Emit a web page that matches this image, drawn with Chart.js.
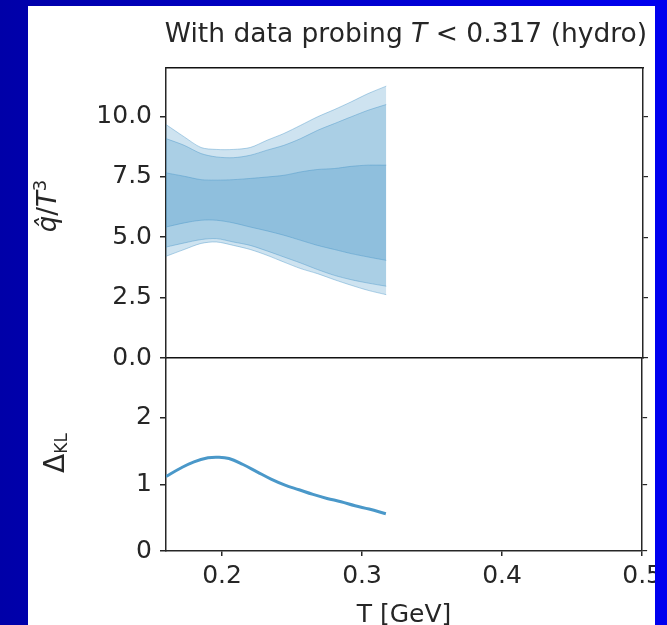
<!DOCTYPE html>
<html><head><meta charset="utf-8">
<script src="https://cdn.jsdelivr.net/npm/chart.js@4.4.1/dist/chart.umd.min.js"></script>
<style>
html,body{margin:0;width:667px;height:625px;overflow:hidden;background:linear-gradient(90deg,#0000a8,#0000f0);}
#sheet{position:absolute;left:28px;top:6px;width:627px;height:619px;background:#fff;overflow:hidden;}
#sheet canvas{position:absolute;left:-28px;top:-6px;}
</style></head><body>
<div id="sheet"><canvas id="qhat" width="667" height="625"></canvas><canvas id="dkl" width="667" height="625"></canvas></div>
<script>
// ----- values -----
const tQ    = [0.160, 0.173, 0.185, 0.196, 0.208, 0.220, 0.232, 0.244, 0.256, 0.268, 0.280, 0.292, 0.304, 0.317];
const hiOut = [9.66, 9.15, 8.71, 8.63, 8.63, 8.71, 9.01, 9.29, 9.63, 9.98, 10.28, 10.60, 10.94, 11.25];
const hiMid = [9.08, 8.80, 8.46, 8.32, 8.29, 8.39, 8.60, 8.80, 9.08, 9.42, 9.70, 9.98, 10.25, 10.49];
const hiIn  = [7.66, 7.52, 7.38, 7.36, 7.38, 7.43, 7.49, 7.56, 7.70, 7.80, 7.84, 7.93, 7.98, 7.98];
const loIn  = [5.42, 5.59, 5.70, 5.70, 5.59, 5.42, 5.26, 5.08, 4.87, 4.66, 4.49, 4.32, 4.18, 4.04];
const loMid = [4.59, 4.76, 4.90, 4.94, 4.80, 4.66, 4.43, 4.18, 3.93, 3.66, 3.42, 3.24, 3.10, 2.97];
const loOut = [4.21, 4.49, 4.74, 4.80, 4.66, 4.49, 4.25, 3.97, 3.70, 3.49, 3.24, 3.01, 2.80, 2.62];

const tKL = [0.160, 0.170, 0.180, 0.190, 0.197, 0.205, 0.215, 0.225, 0.235, 0.245, 0.255, 0.265, 0.275, 0.285, 0.295, 0.305, 0.317];
const dKL = [1.12, 1.24, 1.34, 1.40, 1.41, 1.39, 1.30, 1.19, 1.08, 0.99, 0.92, 0.85, 0.79, 0.74, 0.68, 0.63, 0.56];

const xTicks = [0.2, 0.3, 0.4, 0.5];
const qTicks = [0, 2.5, 5, 7.5, 10];
const dTicks = [0, 1, 2];

// ----- look -----
const FONT = 'DejaVu Sans', INK = '#262626';
const BLUE = '#4a98c9', BAND = 'rgba(66,146,198,0.26)', EDGE = 'rgba(66,146,198,0.4)';
const L = 166, R = 643, TOP = 68, MID = 358, BOT = 551;   // plot frame in page px

const pts = (xs, ys) => xs.map((x, i) => ({x, y: ys[i]}));
const fixTicks = arr => s => { s.ticks = arr.map(v => ({value: v})); };
const fixW = w => s => { s.width = w; };
const fixH = h => s => { s.height = h; };
const tickFont = {family: FONT, size: 25};
const spine = {color: INK, width: 1.5};

// draws mixed-style text runs (italics, sub/superscripts), optionally rotated
const textPlugin = items => ({
  id: 'richText',
  afterDraw(chart){
    const ctx = chart.ctx;
    items.forEach(it => {
      ctx.save();
      ctx.translate(it.x, it.y);
      if(it.rot) ctx.rotate(it.rot);
      ctx.fillStyle = INK; ctx.textBaseline = 'alphabetic'; ctx.textAlign = 'left';
      let w = 0;
      const runs = it.runs.map(r => {
        const f = `${r.it ? 'italic ' : ''}${r.size}px "${FONT}"`;
        ctx.font = f; const rw = ctx.measureText(r.t).width; w += rw;
        return {...r, f, rw};
      });
      let x = -w / 2;
      runs.forEach(r => { ctx.font = r.f; ctx.fillText(r.t, x, r.dy || 0); x += r.rw; });
      ctx.restore();
    });
  }
});

const yAxis = (max, ticks, fmt) => ({
  min: 0, max, z: 1, afterBuildTicks: fixTicks(ticks), afterFit: fixW(L),
  ticks: {callback: fmt, font: tickFont, color: INK, padding: 8},
  grid: {drawOnChartArea: false, tickLength: 6, color: INK, lineWidth: 1.5},
  border: spine,
});
const yRight = (max, ticks) => ({
  position: 'right', min: 0, max, z: 1, afterBuildTicks: fixTicks(ticks), afterFit: fixW(6),
  ticks: {display: false},
  grid: {drawOnChartArea: false, tickLength: 5, color: INK, lineWidth: 1.2},
  border: spine,
});
const bareX = pos => ({
  type: 'linear', position: pos, min: 0.16, max: 0.5, z: 1, afterFit: fixH(0),
  ticks: {display: false}, grid: {display: false}, border: {color: '#111', width: 1.5},
});
const band = (data, fill) => ({data, fill, borderColor: EDGE, borderWidth: 1,
  backgroundColor: BAND, pointRadius: 0, tension: 0.3});

new Chart(document.getElementById('qhat'), {
  type: 'line',
  data: {datasets: [
    band(pts(tQ, loOut), false), band(pts(tQ, hiOut), '-1'),
    band(pts(tQ, loMid), false), band(pts(tQ, hiMid), '-1'),
    band(pts(tQ, loIn), false),  band(pts(tQ, hiIn), '-1'),
  ]},
  options: {
    responsive: false, animation: false, devicePixelRatio: 1,
    layout: {padding: {left: 0, top: TOP, right: 667 - R - 6, bottom: 625 - MID}},
    plugins: {legend: {display: false}, tooltip: {enabled: false}},
    scales: {x: bareX('bottom'), xTop: bareX('top'),
      y: yAxis(12, qTicks, v => v.toFixed(1)), yR: yRight(12, qTicks)},
  },
  plugins: [textPlugin([
    {x: 406, y: 41.5, runs: [{t: 'With data probing ', size: 26.5}, {t: 'T', size: 26.5, it: true},
      {t: ' < 0.317 (hydro)', size: 26.5}]},
    {x: 56, y: 206, rot: -Math.PI / 2, runs: [{t: 'q\u0302', size: 26, it: true}, {t: '/', size: 26},
      {t: 'T', size: 26, it: true}, {t: '3', size: 18, dy: -10}]},
  ])],
});

new Chart(document.getElementById('dkl'), {
  type: 'line',
  data: {datasets: [{data: pts(tKL, dKL), borderColor: BLUE, borderWidth: 3, pointRadius: 0,
    tension: 0.4, fill: false}]},
  options: {
    responsive: false, animation: false, devicePixelRatio: 1,
    layout: {padding: {left: 0, top: MID, right: 667 - R - 6, bottom: 0}},
    plugins: {legend: {display: false}, tooltip: {enabled: false}},
    scales: {
      x: {type: 'linear', min: 0.16, max: 0.5, z: 1, afterBuildTicks: fixTicks(xTicks),
        afterFit: fixH(625 - BOT),
        ticks: {callback: v => v.toFixed(1), font: tickFont, color: INK, padding: 5,
          maxRotation: 0, autoSkip: false},
        grid: {drawOnChartArea: false, tickLength: 5, color: INK, lineWidth: 1.5},
        border: spine},
      y: yAxis(2.9, dTicks, v => String(v)), yR: yRight(2.9, dTicks),
    },
  },
  plugins: [textPlugin([
    {x: 63.5, y: 453, rot: -Math.PI / 2, runs: [{t: '\u0394', size: 28}, {t: 'KL', size: 17, dy: 3}]},
    {x: 404, y: 621.5, runs: [{t: 'T [GeV]', size: 25}]},
  ])],
});
</script>
</body></html>
